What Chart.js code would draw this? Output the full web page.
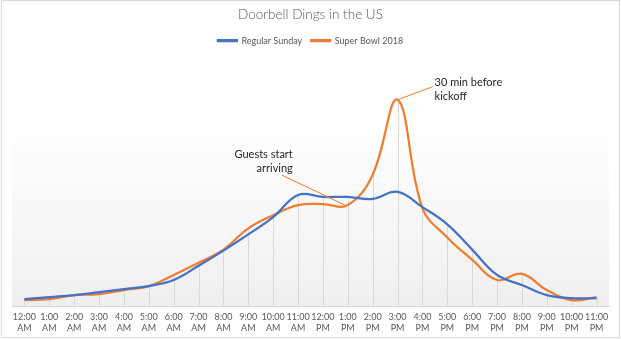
<!DOCTYPE html>
<html>
<head>
<meta charset="utf-8">
<script src="https://cdn.jsdelivr.net/npm/chart.js@4"></script>
<style>
  html, body { margin: 0; padding: 0; background: #fff; }
  #wrap { width: 621px; height: 339px; }
</style>
</head>
<body>
<div id="wrap"><canvas id="grafica" width="621" height="339"></canvas></div>
<script>
// Datos
const horas = [
    ["12:00", "AM"], ["1:00", "AM"], ["2:00", "AM"], ["3:00", "AM"], ["4:00", "AM"], ["5:00", "AM"],
    ["6:00", "AM"], ["7:00", "AM"], ["8:00", "AM"], ["9:00", "AM"], ["10:00", "AM"], ["11:00", "AM"],
    ["12:00", "PM"], ["1:00", "PM"], ["2:00", "PM"], ["3:00", "PM"], ["4:00", "PM"], ["5:00", "PM"],
    ["6:00", "PM"], ["7:00", "PM"], ["8:00", "PM"], ["9:00", "PM"], ["10:00", "PM"], ["11:00", "PM"]
];
const domingoNormal = [7, 9, 11, 14, 17, 20, 26, 40, 55, 71, 88, 110, 108, 108, 106, 113, 98, 81, 56, 31, 21, 11, 8, 8];
const superBowl = [6, 7, 11, 12, 16, 20, 31, 43, 56, 77, 90, 100, 101, 100, 130, 204, 97, 68, 46, 26, 32, 16, 6, 9];
const notas = [
    { serie: 1, indice: 15, texto: ["30 min before", "kickoff"] },
    { serie: 1, indice: 13, texto: ["Guests start", "arriving"] }
];

const AZUL = "#4472C4";
const NARANJA = "#ED7D31";
const GRIS = "#595959";
const FUENTE = "Lato, 'Open Sans', sans-serif";

// Fondo, borde y degradado del area
const fondo = {
    id: "fondo",
    beforeDraw(chart) {
        const { ctx, chartArea } = chart;
        ctx.save();
        ctx.fillStyle = "#fff";
        ctx.fillRect(0, 0, chart.width, chart.height);
        const g = ctx.createLinearGradient(0, chartArea.top, 0, chartArea.bottom);
        g.addColorStop(0, "#ffffff");
        g.addColorStop(0.3, "#ffffff");
        g.addColorStop(1, "#efefef");
        ctx.fillStyle = g;
        ctx.fillRect(chartArea.left, chartArea.top, chartArea.right - chartArea.left, chartArea.bottom - chartArea.top);
        ctx.strokeStyle = "#d9d9d9";
        ctx.lineWidth = 1;
        ctx.strokeRect(1.5, 0.5, chart.width - 3, chart.height - 2);
        ctx.restore();
    }
};

// Lineas de caida desde el punto mas alto hasta el eje
const caidas = {
    id: "caidas",
    beforeDatasetsDraw(chart) {
        const { ctx } = chart;
        const x = chart.scales.x;
        const y = chart.scales.y;
        ctx.save();
        ctx.strokeStyle = "#d9d9d9";
        ctx.lineWidth = 1;
        horas.forEach((h, i) => {
            const alto = Math.max(domingoNormal[i], superBowl[i]);
            const px = Math.round(x.getPixelForValue(i)) + 0.5;
            ctx.beginPath();
            ctx.moveTo(px, y.getPixelForValue(alto));
            ctx.lineTo(px, y.getPixelForValue(0));
            ctx.stroke();
        });
        ctx.restore();
    }
};

// Notas con linea guia
const anotaciones = {
    id: "anotaciones",
    afterDatasetsDraw(chart) {
        const { ctx } = chart;
        const estilos = [
            { dx: 35, dy: -13, tx: 37, ty: -17, align: "left" },
            { dx: -66, dy: -30, tx: -55, ty: -51, align: "right" }
        ];
        ctx.save();
        notas.forEach((n, k) => {
            const p = chart.getDatasetMeta(n.serie).data[n.indice];
            const e = estilos[k];
            const ox = k === 1 ? -3 : 0;
            ctx.strokeStyle = NARANJA;
            ctx.lineWidth = 1;
            ctx.beginPath();
            ctx.moveTo(p.x + ox, p.y);
            ctx.lineTo(p.x + e.dx, p.y + e.dy);
            ctx.stroke();
            ctx.fillStyle = "#262626";
            ctx.font = "11px " + FUENTE;
            ctx.textAlign = e.align;
            ctx.textBaseline = "middle";
            n.texto.forEach((t, j) => {
                ctx.fillText(t, p.x + e.tx, p.y + e.ty + j * 14);
            });
        });
        ctx.restore();
    }
};

Chart.defaults.font.family = FUENTE;
Chart.defaults.color = GRIS;

new Chart(document.getElementById("grafica"), {
    type: "line",
    data: {
        labels: horas,
        datasets: [
            {
                label: "Regular Sunday",
                data: domingoNormal,
                borderColor: AZUL,
                backgroundColor: AZUL,
                borderWidth: 2.25,
                pointRadius: 0,
                tension: 0.4
            },
            {
                label: "Super Bowl 2018",
                data: superBowl,
                borderColor: NARANJA,
                backgroundColor: NARANJA,
                borderWidth: 2.25,
                pointRadius: 0,
                tension: 0.4
            }
        ]
    },
    options: {
        responsive: false,
        animation: false,
        layout: { padding: { left: 12, right: 12, top: 4, bottom: 0 } },
        plugins: {
            title: {
                display: true,
                text: "Doorbell Dings in the US",
                color: GRIS,
                font: { size: 13.5, weight: 300 },
                padding: { top: 3, bottom: 4 }
            },
            legend: {
                labels: {
                    boxWidth: 19,
                    boxHeight: 1,
                    font: { size: 9 },
                    color: GRIS,
                    padding: 9
                }
            },
            tooltip: { enabled: false }
        },
        scales: {
            x: {
                offset: true,
                grid: { display: false, drawTicks: false },
                border: { display: true, color: "#d9d9d9", width: 1 },
                ticks: {
                    autoSkip: false,
                    maxRotation: 0,
                    padding: 6,
                    font: { size: 9, lineHeight: 1.15 },
                    color: GRIS
                }
            },
            y: {
                display: false,
                min: 0,
                max: 248
            }
        }
    },
    plugins: [fondo, caidas, anotaciones]
});
</script>
</body>
</html>
